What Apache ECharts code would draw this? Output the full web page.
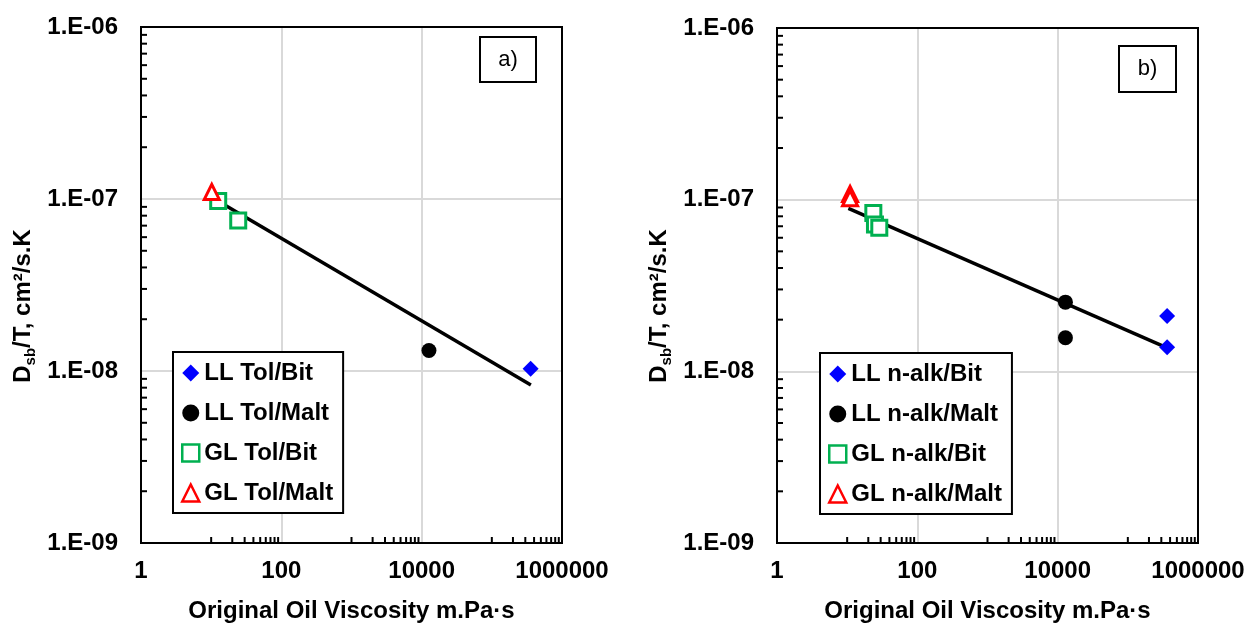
<!DOCTYPE html>
<html>
<head>
<meta charset="utf-8">
<script src="https://cdn.jsdelivr.net/npm/echarts@6/dist/echarts.min.js"></script>
<style>html,body{margin:0;padding:0;background:#fff}#c{width:1250px;height:628px}</style>
</head>
<body>
<div id="c"></div>
<script>
// ---------- data ----------
// Panel a)
const llTolBit = [[357000, 1.03e-8]];
const llTolMalt = [[12700, 1.315e-8]];
const glTolBit = [[12.6, 9.75e-8], [24.3, 7.5e-8]];
const glTolMalt = [[10.2, 1.1e-7]];
const fitA = [[10.7, 1.01e-7], [360000, 8.3e-9]];
// Panel b)
const llAlkBit = [[363000, 2.1e-8], [363000, 1.38e-8]];
const llAlkMalt = [[12900, 2.53e-8], [12900, 1.57e-8]];
const glAlkBit = [[23.6, 8.36e-8], [24.9, 7.16e-8], [28.7, 6.85e-8]];
const glAlkMalt = [[11.0, 1.08e-7], [11.0, 1.02e-7]];
const fitB = [[10.4, 8.9e-8], [363000, 1.37e-8]];

const namesA = ['LL Tol/Bit', 'LL Tol/Malt', 'GL Tol/Bit', 'GL Tol/Malt'];
const namesB = ['LL n-alk/Bit', 'LL n-alk/Malt', 'GL n-alk/Bit', 'GL n-alk/Malt'];
const yTickLabels = ['1.E-09', '1.E-08', '1.E-07', '1.E-06'];
const xTickLabels = ['1', '100', '10000', '1000000'];
const minorX = [10,20,30,40,50,60,70,80,90,1000,2000,3000,4000,5000,6000,7000,8000,9000,100000,200000,300000,400000,500000,600000,700000,800000,900000];
const minorY = [2e-9,3e-9,4e-9,5e-9,6e-9,7e-9,8e-9,9e-9,2e-8,3e-8,4e-8,5e-8,6e-8,7e-8,8e-8,9e-8,2e-7,3e-7,4e-7,5e-7,6e-7,7e-7,8e-7,9e-7];
const xTitle = 'Original Oil Viscosity m.Pa·s';

// ---------- chart ----------
const FONT = 'Liberation Sans, Arial, sans-serif';
const chart = echarts.init(document.getElementById('c'), null, {renderer: 'canvas'});

function xAxis(gi) {
  return {
    type: 'log', logBase: 100, min: 1, max: 1000000, gridIndex: gi,
    name: xTitle, nameLocation: 'middle', nameGap: 56,
    nameTextStyle: {fontFamily: FONT, fontSize: 24, fontWeight: 'bold', color: '#000'},
    axisLine: {show: true, lineStyle: {color: '#000', width: 2}},
    axisTick: {show: false},
    axisLabel: {
      margin: 16, fontFamily: FONT, fontSize: 24, fontWeight: 'bold', color: '#000',
      formatter: v => xTickLabels[Math.round(Math.log10(v) / 2)]
    },
    splitLine: {show: true, lineStyle: {color: '#d9d9d9', width: 2}}
  };
}
function yAxis(gi) {
  return {
    type: 'log', logBase: 10, min: 1e-9, max: 1e-6, gridIndex: gi,
    axisLine: {show: true, lineStyle: {color: '#000', width: 2}},
    axisTick: {show: false},
    axisLabel: {
      margin: 23, fontFamily: FONT, fontSize: 24, fontWeight: 'bold', color: '#000',
      formatter: v => yTickLabels[Math.round(Math.log10(v)) + 9]
    },
    splitLine: {show: true, lineStyle: {color: '#d9d9d9', width: 2}}
  };
}
function frameAxis(gi, pos) {
  return {
    type: 'value', min: 0, max: 1, gridIndex: gi, position: pos, z: 6,
    axisLine: {show: true, onZero: false, lineStyle: {color: '#000', width: 2}},
    axisTick: {show: false}, axisLabel: {show: false}, splitLine: {show: false}
  };
}

function markerSeries(name, data, gi, kind) {
  const s = {name, type: 'scatter', data, xAxisIndex: gi, yAxisIndex: gi, z: 5, clip: false};
  if (kind === 'diamond') { s.symbol = 'diamond'; s.symbolSize = 16; s.itemStyle = {color: '#0000ff', opacity: 1}; }
  if (kind === 'circle') { s.symbol = 'circle'; s.symbolSize = 15; s.itemStyle = {color: '#000', opacity: 1}; }
  if (kind === 'square') { s.symbol = 'rect'; s.symbolSize = 15; s.itemStyle = {color: '#fff', borderColor: '#00b050', borderWidth: 3, opacity: 1}; }
  if (kind === 'triangle') { s.symbol = 'triangle'; s.symbolSize = 15; s.itemStyle = {color: '#fff', borderColor: '#ff0000', borderWidth: 3, opacity: 1}; }
  return s;
}
function fitSeries(data, gi) {
  return {type: 'line', data, xAxisIndex: gi, yAxisIndex: gi, symbol: 'none', z: 3,
    lineStyle: {color: '#000', width: 3.5}, silent: true};
}
function tickSeries(gi) {
  return [
    {type: 'scatter', xAxisIndex: gi, yAxisIndex: gi, silent: true, clip: false, z: 4,
     data: minorX.map(v => [v, 1e-9]), symbol: 'rect', symbolSize: [2, 6], symbolOffset: [0, -3],
     itemStyle: {color: '#000', opacity: 1}},
    {type: 'scatter', xAxisIndex: gi, yAxisIndex: gi, silent: true, clip: false, z: 4,
     data: minorY.map(v => [1, v]), symbol: 'rect', symbolSize: [6, 2], symbolOffset: [3, 0],
     itemStyle: {color: '#000', opacity: 1}}
  ];
}
function legend(names, left, top) {
  return {
    data: [
      {name: names[0]},
      {name: names[1]},
      {name: names[2], itemStyle: {borderWidth: 2.5, borderColor: '#00b050', color: '#fff'}},
      {name: names[3], itemStyle: {borderWidth: 2.5, borderColor: '#ff0000', color: '#fff'}}
    ],
    orient: 'vertical', left, top, selectedMode: false, z: 8,
    backgroundColor: '#fff', borderColor: '#000', borderWidth: 2, padding: [7, 10, 6, 8],
    itemGap: 12, itemWidth: 17, itemHeight: 17,
    textStyle: {fontFamily: FONT, fontSize: 24, fontWeight: 'bold', color: '#000', lineHeight: 28}
  };
}
function yTitle(x) {
  return {
    type: 'text', x, y: 306, rotation: Math.PI / 2, z: 10,
    style: {
      text: '{n|D}{s|sb}{n|/T, cm²/s.K}', align: 'center', verticalAlign: 'middle',
      rich: {
        n: {fontFamily: FONT, fontSize: 24, fontWeight: 'bold', fill: '#000', lineHeight: 30},
        s: {fontFamily: FONT, fontSize: 15, fontWeight: 'bold', fill: '#000', lineHeight: 30, verticalAlign: 'bottom', padding: [10, 0, 0, 0]}
      }
    }
  };
}
function labelBox(x, y, w, h, txt) {
  return [
    {type: 'rect', shape: {x, y, width: w, height: h}, style: {fill: '#fff', stroke: '#000', lineWidth: 2}, z: 10},
    {type: 'text', x: x + w / 2, y: y + h / 2, z: 11,
     style: {text: txt, align: 'center', verticalAlign: 'middle', fontFamily: FONT, fontSize: 22, fill: '#000'}}
  ];
}

const option = {
  animation: false,
  backgroundColor: '#fff',
  grid: [
    {left: 141, top: 27, width: 421, height: 521, show: true, borderColor: '#000', borderWidth: 2, backgroundColor: 'transparent'},
    {left: 777, top: 28, width: 421, height: 520, show: true, borderColor: '#000', borderWidth: 2, backgroundColor: 'transparent'}
  ],
  xAxis: [xAxis(0), xAxis(1), frameAxis(0, 'top'), frameAxis(1, 'top')],
  yAxis: [yAxis(0), yAxis(1), frameAxis(0, 'right'), frameAxis(1, 'right')],
  legend: [legend(namesA, 173, 352), legend(namesB, 820, 353)],
  series: [
    fitSeries(fitA, 0),
    markerSeries(namesA[0], llTolBit, 0, 'diamond'),
    markerSeries(namesA[1], llTolMalt, 0, 'circle'),
    markerSeries(namesA[2], glTolBit, 0, 'square'),
    markerSeries(namesA[3], glTolMalt, 0, 'triangle'),
    ...tickSeries(0),
    fitSeries(fitB, 1),
    markerSeries(namesB[0], llAlkBit, 1, 'diamond'),
    markerSeries(namesB[1], llAlkMalt, 1, 'circle'),
    markerSeries(namesB[2], glAlkBit, 1, 'square'),
    markerSeries(namesB[3], glAlkMalt, 1, 'triangle'),
    ...tickSeries(1)
  ],
  graphic: [
    yTitle(23), yTitle(659),
    ...labelBox(480, 37, 56, 45, 'a)'),
    ...labelBox(1119, 46, 57, 46, 'b)')
  ]
};
chart.setOption(option);
</script>
</body>
</html>
